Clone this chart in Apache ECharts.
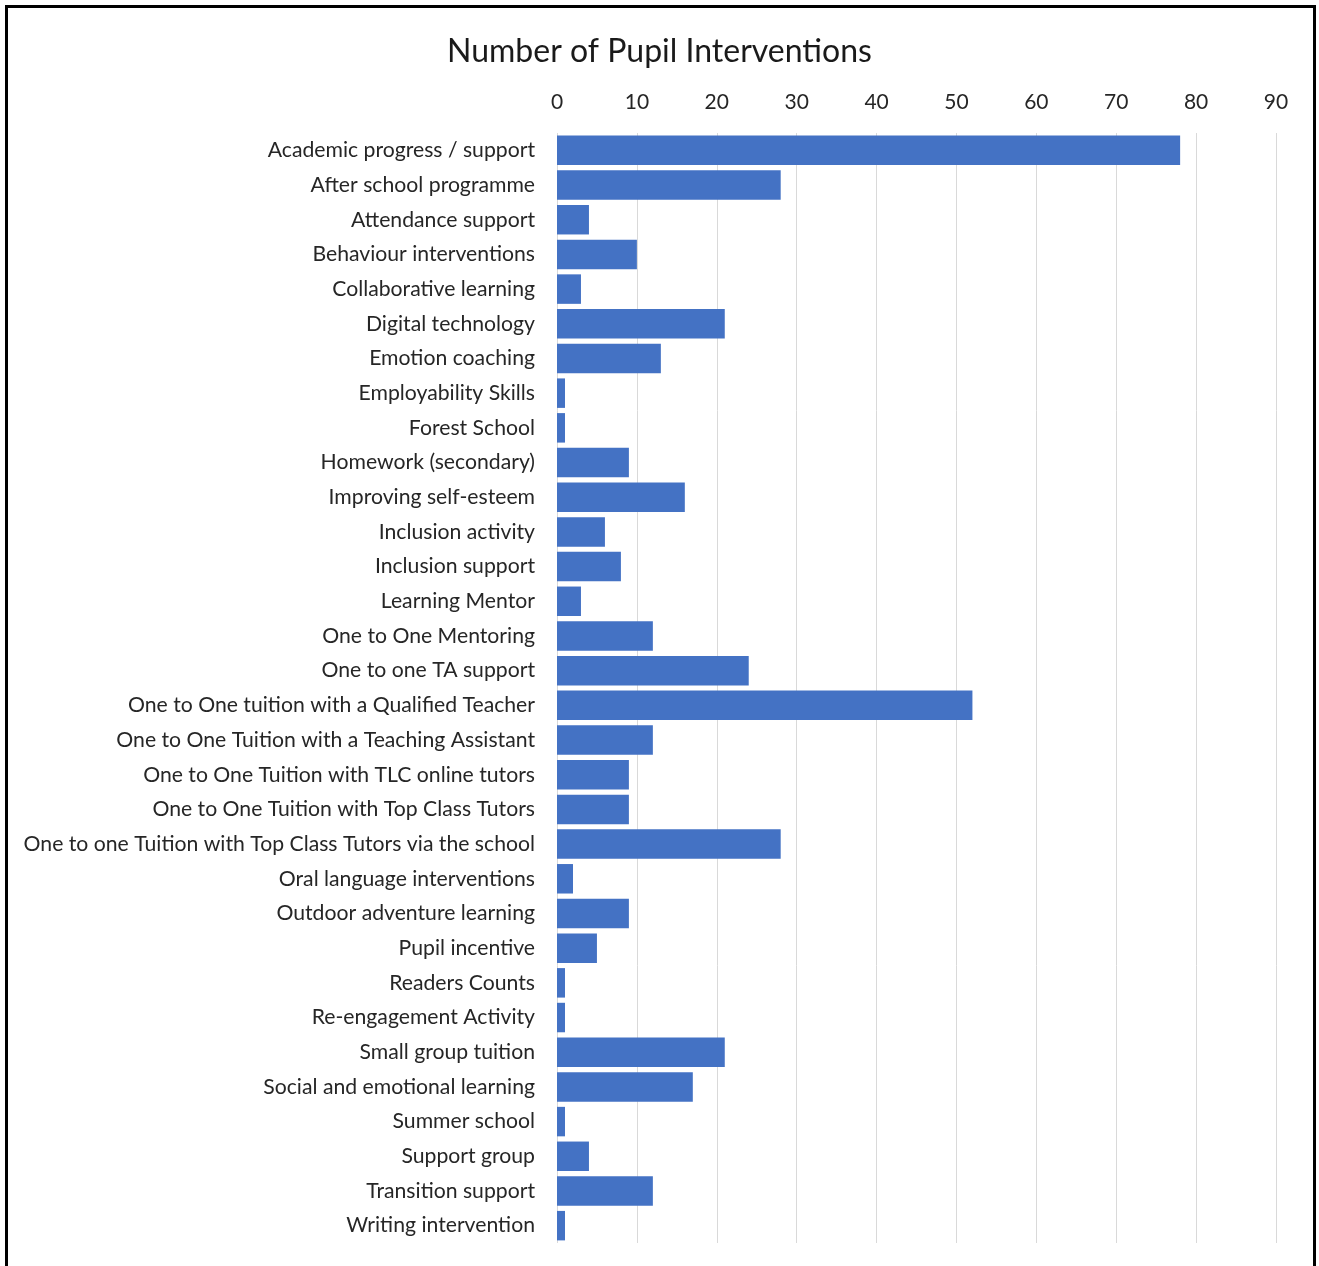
<!DOCTYPE html>
<html>
<head>
<meta charset="utf-8">
<script src="https://cdn.jsdelivr.net/npm/echarts@6/dist/echarts.min.js"></script>
<style>
html,body{margin:0;padding:0;background:#fff;}
#chart{width:1319px;height:1266px;}
</style>
</head>
<body>
<div id="chart"></div>
<script>
const categories = [
  "Academic progress / support",
  "After school programme",
  "Attendance support",
  "Behaviour interventions",
  "Collaborative learning",
  "Digital technology",
  "Emotion coaching",
  "Employability Skills",
  "Forest School",
  "Homework (secondary)",
  "Improving self-esteem",
  "Inclusion activity",
  "Inclusion support",
  "Learning Mentor",
  "One to One Mentoring",
  "One to one TA support",
  "One to One tuition with a Qualified Teacher",
  "One to One Tuition with a Teaching Assistant",
  "One to One Tuition with TLC online tutors",
  "One to One Tuition with Top Class Tutors",
  "One to one Tuition with Top Class Tutors via the school",
  "Oral language interventions",
  "Outdoor adventure learning",
  "Pupil incentive",
  "Readers Counts",
  "Re-engagement Activity",
  "Small group tuition",
  "Social and emotional learning",
  "Summer school",
  "Support group",
  "Transition support",
  "Writing intervention"
];
const values = [78, 28, 4, 10, 3, 21, 13, 1, 1, 9, 16, 6, 8, 3, 12, 24, 52, 12, 9, 9, 28, 2, 9, 5, 1, 1, 21, 17, 1, 4, 12, 1];
const titleText = "Number of Pupil Interventions";
const axisMin = 0, axisMax = 90, axisStep = 10;

const FONT = "Lato";
const chart = echarts.init(document.getElementById('chart'), null, {renderer: 'canvas'});
chart.setOption({
  animation: false,
  backgroundColor: '#fff',
  textStyle: {fontFamily: FONT},
  title: {
    text: titleText,
    left: 'center',
    top: 31,
    textStyle: {fontFamily: FONT, fontSize: 32, fontWeight: 'normal', color: '#1a1a1a'}
  },
  graphic: [{
    type: 'rect',
    shape: {x: 6.5, y: 6.5, width: 1308, height: 1320},
    style: {fill: 'none', stroke: '#000', lineWidth: 3},
    silent: true,
    z: 100
  }],
  grid: {left: 557, right: 43, top: 133, bottom: 23, containLabel: false},
  xAxis: {
    type: 'value',
    position: 'top',
    min: axisMin, max: axisMax, interval: axisStep,
    axisLine: {show: false},
    axisTick: {show: false},
    axisLabel: {fontFamily: FONT, fontSize: 21, color: '#262626', margin: 20},
    splitLine: {show: true, lineStyle: {color: '#d9d9d9', width: 1}}
  },
  yAxis: {
    type: 'category',
    data: categories,
    inverse: true,
    axisLine: {show: false},
    axisTick: {show: false},
    axisLabel: {fontFamily: FONT, fontSize: 21.2, color: '#262626', margin: 22}
  },
  series: [{
    type: 'bar',
    data: values,
    barCategoryGap: '15%',
    itemStyle: {color: '#4472C4'}
  }]
});
</script>
</body>
</html>
